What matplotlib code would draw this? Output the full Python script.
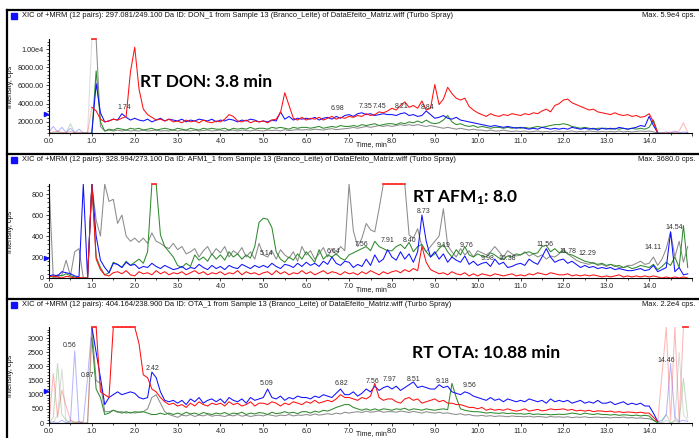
import numpy as np
import matplotlib
matplotlib.use("Agg")
import matplotlib.pyplot as plt
from matplotlib.ticker import FixedLocator, MultipleLocator, AutoMinorLocator, FuncFormatter
from matplotlib.lines import Line2D
from matplotlib.patches import Rectangle
import matplotlib.transforms as mtransforms

plt.rcParams['font.family'] = ['Liberation Sans', 'DejaVu Sans']
plt.rcParams['mathtext.fontset'] = 'custom'
plt.rcParams['mathtext.rm'] = 'Lato:bold'

# time axis of the XIC traces (min), one point every 0.1 min
time_min = np.round(np.arange(150) * 0.1, 1)

#DON_1  297.081/249.100 ---------------------------------------------------
don_red = [800, 900, 1000, 850, 800, 950, 800, 850, 800, 800,
           3600, 3200, 2300, 2000, 2100, 2300, 2200, 2400, 2600, 7500,
           10200, 5600, 3400, 2800, 2500, 2200, 2300, 2100, 2300, 2000,
           2100, 1900, 2200, 2000, 2100, 1900, 2200, 2000, 1900, 2100,
           2000, 2300, 2800, 2600, 2100, 2000, 2200, 1900, 2100, 2000,
           2100, 1900, 2200, 2300, 3000, 5200, 3800, 2400, 2200, 2500,
           2200, 2400, 2300, 2500, 2200, 2400, 2600, 2300, 2500, 2400,
           2600, 2500, 2700, 2600, 2900, 2700, 2800, 3100, 3000, 3200,
           3500, 3300, 3800, 4200, 3600, 3800, 3500, 4300, 3300, 3500,
           6100, 3900, 4500, 5800, 5100, 4600, 4400, 4600, 3700, 3300,
           3000, 2800, 2600, 2900, 2700, 2600, 2800, 2700, 2900, 2800,
           2700, 2900, 2800, 3000, 2900, 3200, 3400, 3100, 3800, 4000,
           4400, 4500, 4100, 3900, 3700, 3500, 3300, 3400, 3100, 3000,
           2900, 2800, 3000, 2800, 2700, 2800, 2600, 2700, 2500, 2600,
           2900, 2000, 800, 800, 800, 900, 800, 1000, 1900, 800]
don_blue = [900, 1500, 900, 1400, 850, 1300, 800, 1200, 800, 800,
            800, 6200, 3000, 2000, 2100, 2300, 2200, 2900, 2500, 2200,
            2400, 2200, 2100, 2300, 2000, 2200, 2400, 2100, 2300, 2200,
            2100, 2300, 2000, 2200, 2100, 2300, 2200, 2100, 2300, 2000,
            2200, 2100, 2300, 2200, 2000, 2200, 2100, 2300, 2200, 2000,
            2100, 2000, 2200, 2100, 3100, 2300, 2600, 2200, 2400, 2300,
            2400, 2300, 2500, 2200, 2400, 2500, 2300, 2600, 2400, 2700,
            2800, 2600, 2900, 3000, 2800, 2900, 2700, 2800, 2900, 2800,
            2800, 2700, 2900, 3000, 2700, 2800, 2600, 2700, 3200, 2800,
            2400, 2500, 2700, 2400, 2300, 2500, 2200, 2100, 2000, 1900,
            1800, 1700, 1600, 1500, 1600, 1500, 1400, 1500, 1400, 1300,
            1400, 1300, 1200, 1300, 1200, 1400, 1300, 1200, 1300, 1200,
            1300, 1200, 1400, 1300, 1200, 1300, 1200, 1300, 1100, 1300,
            1200, 1300, 1200, 1400, 1300, 1200, 1300, 1400, 1600, 1500,
            2600, 1600, 800, 800, 900, 800, 1000, 800, 900, 800]
don_green = [800, 800, 850, 800, 800, 1800, 800, 800, 800, 800,
             800, 7600, 2000, 1000, 1200, 1100, 1300, 1200, 1100, 1300,
             1200, 1300, 1100, 1200, 1300, 1100, 1200, 1300, 1200, 1100,
             1300, 1200, 1100, 1300, 1200, 1100, 1300, 1200, 1300, 1200,
             1200, 1300, 1100, 1300, 1200, 1300, 1200, 1400, 1200, 1300,
             1300, 1200, 1400, 1300, 1400, 1300, 1200, 1400, 1300, 1400,
             1400, 1300, 1400, 1500, 1300, 1400, 1500, 1400, 1600, 1500,
             1500, 1600, 1500, 1700, 1600, 1700, 1800, 1600, 1700, 1800,
             1800, 1700, 1900, 1800, 2000, 1900, 2100, 1900, 2200, 1900,
             1800, 1900, 2200, 2700, 2000, 1700, 1800, 1600, 1500, 1600,
             1400, 1500, 1400, 1300, 1400, 1400, 1300, 1400, 1300, 1400,
             1300, 1400, 1300, 1400, 1500, 1400, 1500, 1600, 1700, 1700,
             1800, 1700, 1500, 1400, 1300, 1400, 1300, 1200, 1300, 1300,
             1300, 1200, 1300, 1200, 1300, 1200, 1300, 1200, 1300, 1200,
             1400, 2200, 800, 800, 800, 800, 800, 800, 800, 800]
don_gray = [800, 800, 800, 800, 800, 800, 800, 800, 800, 800,
            11100, 11100, 1500, 1000, 1100, 1000, 1100, 1000, 1100, 1000,
            1050, 1000, 1100, 1000, 1050, 1100, 1000, 1050, 1000, 1100,
            1000, 1100, 1050, 1000, 1100, 1000, 1050, 1100, 1000, 1050,
            1100, 1000, 1050, 1100, 1000, 1100, 1050, 1000, 1100, 1050,
            1000, 1100, 1050, 1100, 1000, 1150, 1050, 1100, 1150, 1100,
            1150, 1100, 1200, 1150, 1100, 1200, 1250, 1150, 1200, 1250,
            1300, 1400, 1300, 1400, 1500, 1400, 1500, 1600, 1500, 1600,
            1500, 1600, 1700, 1600, 1700, 1600, 1700, 1600, 1500, 1600,
            1500, 1400, 1300, 1400, 1300, 1200, 1300, 1200, 1100, 1200,
            1100, 1100, 1000, 1100, 1000, 1000, 1100, 1000, 950, 1000,
            950, 1000, 900, 950, 1000, 900, 950, 900, 1000, 950,
            900, 950, 1000, 900, 950, 900, 1000, 950, 900, 950,
            900, 950, 900, 1000, 900, 950, 900, 950, 1000, 950,
            1000, 900, 800, 800, 800, 800, 900, 800, 800, 850]
don_peak_rt = ['1.74', '6.98', '7.35', '7.45', '8.21', '8.84']
don_peak_x = [1.75, 6.74, 7.39, 7.72, 8.23, 8.83]
don_peak_y = [3530, 3420, 3640, 3640, 3640, 3530]

#AFM1_1  328.994/273.100 -------------------------------------------------
afm_red = [10, 20, 10, 0, 15, 10, 0, 5, 0, 0,
           900, 180, 80, 30, 20, 50, 60, 40, 70, 30,
           20, 60, 40, 50, 30, 70, 40, 60, 30, 50,
           40, 60, 30, 50, 70, 40, 60, 30, 50, 40,
           60, 30, 50, 40, 70, 30, 60, 40, 50, 30,
           50, 60, 30, 70, 40, 60, 30, 50, 40, 70,
           40, 60, 30, 50, 70, 40, 60, 50, 30, 60,
           40, 50, 30, 60, 40, 70, 50, 30, 60, 40,
           60, 70, 50, 80, 60, 90, 70, 300, 150, 80,
           60, 40, 50, 30, 60, 40, 30, 50, 20, 40,
           20, 40, 30, 20, 40, 30, 20, 30, 40, 20,
           30, 20, 40, 30, 50, 40, 30, 50, 40, 30,
           30, 40, 20, 30, 20, 30, 20, 30, 20, 10,
           20, 10, 20, 30, 10, 20, 10, 20, 10, 20,
           10, 20, 10, 0, 10, 0, 10, 0, 10, 0]
afm_blue = [20, 30, 20, 60, 50, 40, 20, 10, 900, 0,
            900, 400, 170, 100, 50, 140, 130, 100, 150, 120,
            130, 90, 110, 100, 140, 110, 90, 120, 100, 80,
            90, 110, 80, 100, 90, 130, 100, 80, 120, 90,
            110, 80, 120, 100, 90, 130, 110, 90, 120, 100,
            120, 100, 140, 110, 90, 130, 120, 100, 140, 110,
            150, 120, 140, 110, 160, 130, 200, 140, 120, 160,
            150, 100, 130, 110, 180, 120, 220, 150, 180, 270,
            200, 170, 250, 180, 230, 150, 250, 600, 350, 200,
            250, 180, 230, 150, 200, 170, 150, 210, 130, 160,
            120, 140, 150, 110, 180, 130, 150, 100, 110, 130,
            140, 120, 180, 150, 130, 200, 280, 200, 150, 170,
            180, 140, 160, 130, 100, 120, 100, 110, 90, 100,
            90, 100, 80, 90, 80, 70, 70, 80, 90, 70,
            80, 120, 60, 80, 100, 440, 60, 100, 30, 40]
afm_green = [20, 10, 30, 20, 40, 20, 10, 0, 0, 0,
             900, 200, 100, 30, 50, 150, 130, 100, 160, 120,
             150, 180, 140, 250, 900, 900, 410, 300, 250, 200,
             120, 100, 140, 110, 220, 170, 200, 160, 230, 180,
             220, 170, 250, 200, 230, 180, 220, 190, 300, 530,
             570, 560, 480, 250, 180, 150, 200, 170, 230, 180,
             250, 200, 150, 270, 180, 220, 200, 230, 190, 170,
             220, 240, 260, 280, 300, 260, 350, 300, 280, 260,
             260, 300, 320, 280, 340, 250, 300, 320, 250, 200,
             230, 280, 320, 250, 200, 270, 220, 300, 220, 200,
             230, 210, 200, 240, 220, 190, 180, 210, 200, 230,
             220, 240, 250, 230, 240, 300, 310, 250, 280, 240,
             260, 230, 220, 200, 180, 160, 150, 140, 130, 140,
             120, 130, 110, 120, 100, 110, 90, 100, 120, 110,
             100, 130, 80, 110, 150, 120, 200, 100, 500, 100]
afm_gray = [900, 0, 10, 30, 170, 20, 250, 280, 0, 0,
            900, 550, 400, 900, 730, 750, 520, 600, 400, 350,
            380, 340, 380, 330, 430, 350, 330, 300, 280, 330,
            270, 300, 230, 250, 280, 200, 260, 300, 220, 280,
            240, 300, 200, 260, 230, 290, 200, 250, 180, 330,
            220, 200, 260, 180, 270, 220, 190, 250, 160, 300,
            220, 260, 180, 230, 290, 200, 280, 220, 300, 260,
            900, 450, 300, 380, 520, 460, 440, 660, 900, 900,
            900, 900, 900, 900, 410, 380, 470, 300, 250, 300,
            350, 400, 660, 310, 250, 200, 280, 220, 260, 200,
            260, 240, 220, 250, 300, 250, 200, 260, 230, 210,
            220, 250, 210, 230, 200, 220, 180, 210, 200, 230,
            280, 230, 200, 170, 150, 140, 130, 150, 120, 130,
            110, 130, 120, 100, 100, 120, 120, 140, 160, 130,
            140, 200, 120, 180, 280, 440, 200, 350, 150, 300]
afm_peak_rt = ['5.14', '6.64', '7.56', '7.91', '8.40', '8.73', '9.19', '9.76',
               '9.98', '10.38', '11.56', '11.78', '12.29', '14.11', '14.54']
afm_peak_x = [5.08, 6.64, 7.30, 7.90, 8.41, 8.74, 9.21, 9.74,
              10.23, 10.70, 11.56, 12.10, 12.56, 14.08, 14.59]
afm_peak_y = [238, 248, 324, 362, 362, 638, 314, 314,
              190, 190, 324, 248, 238, 295, 486]

#OTA_1  404.164/238.900 --------------------------------------------------
ota_red = [0, 1750, 200, 1160, 600, 100, 0, 50, 0, 0,
           3390, 3390, 1100, 1000, 900, 3390, 3390, 3390, 3390, 3390,
           3390, 2800, 1700, 1600, 1200, 1100, 900, 750, 650, 700,
           600, 650, 550, 700, 600, 750, 650, 600, 700, 650,
           700, 600, 750, 650, 700, 600, 650, 750, 600, 700,
           700, 650, 750, 700, 600, 700, 650, 750, 700, 650,
           750, 700, 800, 700, 750, 800, 750, 850, 1000, 900,
           900, 850, 800, 900, 850, 950, 1400, 900, 800, 850,
           850, 750, 700, 850, 900, 800, 850, 700, 750, 800,
           850, 750, 800, 700, 700, 650, 650, 600, 550, 550,
           500, 550, 450, 500, 450, 480, 450, 500, 450, 420,
           450, 500, 420, 450, 480, 430, 450, 500, 470, 480,
           500, 450, 480, 430, 450, 420, 450, 400, 430, 420,
           400, 420, 380, 400, 370, 390, 380, 360, 380, 350,
           350, 200, 50, 1700, 3390, 100, 3390, 50, 3390, 3390]
ota_blue = [0, 50, 0, 100, 0, 50, 2550, 0, 50, 1610,
            3390, 2500, 1600, 650, 900, 1000, 1100, 1000, 1050, 1100,
            1050, 900, 850, 900, 1800, 1600, 1100, 800, 750, 800,
            700, 800, 650, 850, 750, 900, 700, 800, 850, 750,
            850, 700, 900, 800, 750, 850, 700, 900, 800, 850,
            900, 1200, 900, 850, 950, 800, 900, 850, 950, 900,
            900, 850, 950, 900, 1000, 950, 900, 1050, 1200, 1000,
            1000, 1100, 950, 1050, 1200, 1100, 1300, 1150, 1250, 1300,
            1200, 1300, 1150, 1250, 1350, 1450, 1250, 1300, 1250, 1200,
            1200, 1350, 1250, 1300, 1100, 1050, 1000, 1100, 1050, 950,
            900, 850, 800, 900, 800, 850, 750, 850, 800, 750,
            800, 750, 850, 800, 750, 800, 700, 850, 750, 800,
            750, 800, 700, 750, 800, 700, 750, 700, 800, 700,
            700, 750, 650, 700, 750, 650, 700, 650, 700, 600,
            600, 350, 50, 100, 300, 2100, 200, 50, 100, 50]
ota_green = [0, 200, 2100, 300, 100, 0, 50, 0, 0, 0,
             3000, 1200, 900, 300, 350, 450, 400, 350, 400, 350,
             400, 380, 400, 350, 300, 300, 350, 300, 350, 300,
             350, 300, 380, 320, 350, 300, 370, 330, 300, 350,
             320, 370, 300, 350, 330, 380, 300, 350, 320, 370,
             350, 300, 380, 330, 350, 400, 350, 380, 330, 400,
             400, 350, 420, 380, 450, 420, 480, 550, 600, 650,
             650, 550, 500, 450, 500, 450, 500, 450, 500, 480,
             450, 500, 480, 520, 450, 500, 480, 450, 500, 470,
             450, 480, 500, 470, 1400, 900, 500, 450, 420, 400,
             400, 380, 350, 370, 350, 340, 360, 330, 350, 320,
             330, 310, 340, 300, 320, 300, 310, 290, 300, 310,
             300, 320, 350, 330, 300, 350, 320, 300, 330, 300,
             300, 280, 300, 270, 290, 280, 260, 280, 250, 270,
             250, 100, 0, 50, 300, 0, 100, 0, 1580, 200]
ota_gray = [0, 0, 300, 1900, 0, 100, 0, 50, 0, 0,
            3390, 1500, 1400, 400, 400, 450, 380, 400, 350, 380,
            350, 380, 400, 500, 900, 1000, 700, 400, 300, 250,
            200, 280, 250, 300, 230, 280, 250, 300, 240, 270,
            260, 230, 280, 250, 300, 240, 270, 230, 260, 280,
            250, 300, 270, 240, 280, 260, 300, 250, 280, 270,
            300, 270, 320, 280, 300, 330, 300, 350, 320, 380,
            350, 380, 400, 370, 420, 380, 400, 430, 380, 400,
            400, 380, 420, 400, 370, 410, 380, 350, 400, 370,
            350, 380, 340, 360, 320, 300, 330, 280, 300, 260,
            250, 270, 240, 260, 230, 250, 240, 220, 250, 230,
            230, 220, 240, 210, 230, 220, 200, 230, 210, 220,
            200, 220, 190, 210, 200, 220, 190, 200, 210, 190,
            200, 180, 200, 190, 210, 180, 190, 170, 180, 160,
            150, 100, 50, 0, 100, 0, 50, 2500, 300, 100]
ota_peak_rt = ['0.56', '0.87', '2.42', '5.09', '6.82', '7.56', '7.97', '8.51',
               '9.18', '9.56', '14.46']
ota_peak_x = [0.49, 0.89, 2.42, 5.08, 6.83, 7.55, 7.95, 8.51, 9.18, 9.81, 14.41]
ota_peak_y = [2720, 1690, 1940, 1380, 1380, 1480, 1520, 1520, 1450, 1340, 2220]

headers = ['XIC of +MRM (12 pairs): 297.081/249.100 Da ID: DON_1 from Sample 13 (Branco_Leite) of DataEfeito_Matriz.wiff (Turbo Spray)',
           'XIC of +MRM (12 pairs): 328.994/273.100 Da ID: AFM1_1 from Sample 13 (Branco_Leite) of DataEfeito_Matriz.wiff (Turbo Spray)',
           'XIC of +MRM (12 pairs): 404.164/238.900 Da ID: OTA_1 from Sample 13 (Branco_Leite) of DataEfeito_Matriz.wiff (Turbo Spray)']
max_text = ['Max. 5.9e4 cps.', 'Max. 3680.0 cps.', 'Max. 2.2e4 cps.']
rt_text = ['RT DON: 3.8 min', 'RT AFM$\\mathrm{_1}$: 8.0', 'RT OTA: 10.88 min']
rt_pos = [(2.12, 6380), (8.46, 762), (8.46, 2470)]
y_ranges = [(780, 11100), (0, 896), (0, 3390)]
y_ticks = [[2000, 4000, 6000, 8000, 10000], [0, 200, 400, 600, 800],
           [0, 500, 1000, 1500, 2000, 2500, 3000]]
marker_y = [2880, 190, 1130]

RED, BLUE, GREEN, GRAY = '#ff1010', '#1010ff', '#2f8a2f', '#8c8c8c'

W, H = 699, 438
fig = plt.figure(figsize=(W / 100, H / 100), dpi=100)

def fx(px):
    return px / W

def fy(py):
    return 1 - py / H

def don_fmt(v, pos):
    if v >= 10000:
        return '1.00e4'
    return '%.2f' % v

panels = [
    ([don_gray, don_green, don_blue, don_red], don_peak_rt, don_peak_x, don_peak_y, True),
    ([afm_gray, afm_green, afm_blue, afm_red], afm_peak_rt, afm_peak_x, afm_peak_y, False),
    ([ota_gray, ota_green, ota_blue, ota_red], ota_peak_rt, ota_peak_x, ota_peak_y, True),
]
colors = [GRAY, GREEN, BLUE, RED]
top_px = [39, 184, 327]
bot_px = [133, 278, 423]
rule_px = [10, 154, 299]
time_lbl_px = [148.5, 293, 437.5]

for k, (traces, prt, px_, py_, fade) in enumerate(panels):
    ax = fig.add_axes([fx(49), fy(bot_px[k]), fx(692 - 49), (bot_px[k] - top_px[k]) / H])
    lo, hi = y_ranges[k]
    for vals, col in zip(traces, colors):
        v = np.minimum(np.array(vals, dtype=float), hi)
        if fade:
            ax.plot(time_min[:11], v[:11], color=col, lw=0.75, alpha=0.3)
            ax.plot(time_min[10:143], v[10:143], color=col, lw=0.75)
            ax.plot(time_min[142:], v[142:], color=col, lw=0.75, alpha=0.3)
        else:
            ax.plot(time_min, v, color=col, lw=0.75)
        # saturated runs are drawn in red along the top
        for i in range(len(v) - 1):
            if v[i] >= hi and v[i + 1] >= hi:
                ax.plot(time_min[i:i + 2], [hi, hi], color='#ff3030', lw=1.3, clip_on=False)

    for s, x, y in zip(prt, px_, py_):
        ax.text(x, y, s, fontsize=5, color='#333333', ha='center', va='center')

    tx, ty = rt_pos[k]
    ax.text(tx, ty, rt_text[k], fontsize=12.5, fontweight='bold', color='black',
            family=['Lato', 'DejaVu Sans'], ha='left', va='center')

    ax.set_xlim(0, 15)
    ax.set_ylim(lo, hi)
    ax.spines['top'].set_visible(False)
    ax.spines['right'].set_visible(False)
    ax.spines['left'].set_linewidth(0.8)
    ax.spines['bottom'].set_linewidth(0.8)
    ax.xaxis.set_major_locator(MultipleLocator(1.0))
    ax.xaxis.set_minor_locator(MultipleLocator(0.5))
    ax.xaxis.set_major_formatter(FuncFormatter(lambda v, p: '%.1f' % v if v < 14.5 else ''))
    ax.yaxis.set_major_locator(FixedLocator(y_ticks[k]))
    ax.yaxis.set_minor_locator(AutoMinorLocator(5))
    if k == 0:
        ax.yaxis.set_major_formatter(FuncFormatter(don_fmt))
    ax.tick_params(which='major', length=2.5, width=0.6, labelsize=5.2, pad=1.3, colors='#222222')
    ax.tick_params(which='minor', length=1.3, width=0.5)

    # little blue marker on the y axis
    trans = mtransforms.blended_transform_factory(ax.transAxes, ax.transData)
    ax.plot([-0.004], [marker_y[k]], marker='>', color='#1010ff', ms=3, transform=trans, clip_on=False)

    # header band
    fig.add_artist(Line2D([fx(7), 1], [fy(rule_px[k])] * 2, color='black', lw=1.6))
    fig.add_artist(Rectangle((fx(11), fy(rule_px[k] + 9)), fx(6), 6 / H, color='#1010ff'))
    fig.text(fx(22), fy(rule_px[k] + 5.5), headers[k], fontsize=5.45, va='center', ha='left', color='#111111')
    fig.text(fx(695), fy(rule_px[k] + 5.5), max_text[k], fontsize=5.45, va='center', ha='right', color='#111111')
    fig.text(fx(11), fy((top_px[k] + bot_px[k]) / 2 + 1), 'Intensity, cps', fontsize=5.3,
             rotation=90, va='center', ha='center', color='#111111')
    fig.text(fx(371), fy(time_lbl_px[k]), 'Time, min', fontsize=5.0, va='bottom', ha='center', color='#111111')

fig.add_artist(Line2D([fx(7), fx(7)], [0, fy(10)], color='black', lw=1.6))

plt.savefig('out.png', dpi=100)
